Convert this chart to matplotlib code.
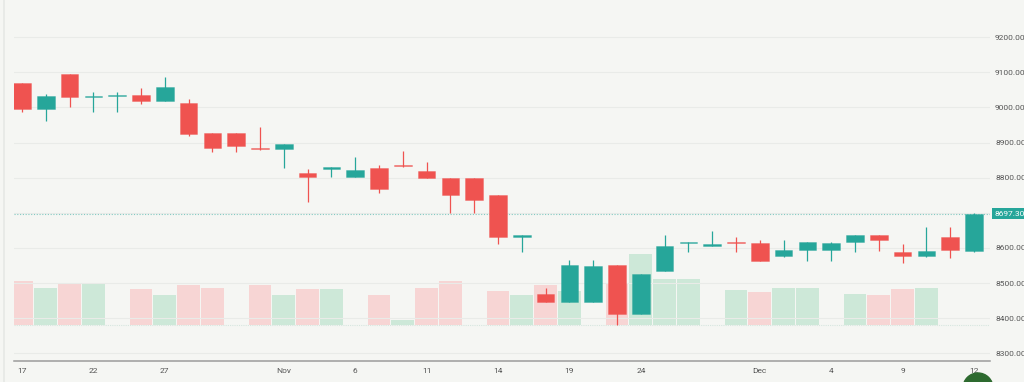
import matplotlib
matplotlib.use("Agg")
import matplotlib.pyplot as plt
import matplotlib.transforms as mtransforms
from matplotlib.patches import Circle
from matplotlib.lines import Line2D
import numpy as np

# daily candles, one slot per trading day
opens = [9071, 8995, 9095, 9030, 9032, 9035, 9018, 9014, 8927, 8927,
         8885, 8882, 8813, 8826, 8801, 8829, 8837, 8820, 8800, 8800,
         8752, 8632, 8468, 8445, 8445, 8551, 8412, 8535, 8614, 8606,
         8616, 8615, 8578, 8593, 8593, 8616, 8636, 8587, 8577, 8631, 8590]
highs = [9071, 9037, 9095, 9043, 9045, 9056, 9086, 9023, 8927, 8927,
         8945, 8896, 8825, 8831, 8858, 8836, 8876, 8844, 8800, 8800,
         8752, 8636, 8487, 8566, 8566, 8551, 8525, 8637, 8617, 8649,
         8632, 8623, 8623, 8618, 8618, 8636, 8636, 8611, 8659, 8659, 8700]
lows = [8988, 8962, 9000, 8986, 8986, 9010, 9018, 8920, 8874, 8874,
        8880, 8827, 8732, 8803, 8801, 8755, 8830, 8798, 8699, 8699,
        8611, 8587, 8445, 8445, 8445, 8380, 8412, 8535, 8587, 8605,
        8587, 8563, 8575, 8564, 8564, 8589, 8592, 8558, 8574, 8572, 8589]
closes = [8995, 9033, 9030, 9034, 9036, 9018, 9058, 8925, 8885, 8890,
          8881, 8895, 8801, 8830, 8821, 8768, 8832, 8798, 8751, 8737,
          8632, 8636, 8445, 8551, 8548, 8413, 8525, 8606, 8617, 8608,
          8613, 8563, 8594, 8618, 8613, 8636, 8622, 8578, 8591, 8593, 8697.3]
volumes = [44.3, 37.3, 41.3, 41.3, 0, 36, 30, 40.3, 37.3, 0,
           40.7, 30, 36.7, 36.7, 0, 30.7, 5, 37.3, 44.3, 0,
           34.3, 30, 40, 34.7, 0, 42, 71.3, 46, 46, 0,
           35.3, 33, 37, 37, 0, 31.7, 30.3, 36.3, 37.7, 0, 0]

tick_slots = [0, 3, 6, 11, 14, 17, 20, 23, 26, 31, 34, 37, 40]
tick_labels = ["17", "22", "27", "Nov", "6", "11", "14", "19", "24", "Dec", "4", "9", "12"]
price_ticks = [8300, 8400, 8500, 8600, 8700, 8800, 8900, 9000, 9100, 9200]
last_price = 8697.3

UP = "#26a69a"
DOWN = "#ef5350"
UP_VOL = "#cde8d8"
DOWN_VOL = "#f7d5d4"
BG = "#f5f6f3"
TXT = "#555555"

plt.rcParams['font.family'] = ['Roboto', 'DejaVu Sans']

fig = plt.figure(figsize=(10.24, 3.82), dpi=100, facecolor=BG)
W, H = 1024, 382
left, right, top, bottom = 14, 990, 0, 361
ax_vol = fig.add_axes([left / W, (H - bottom) / H, (right - left) / W, (bottom - top) / H])
ax_vol.set_facecolor(BG)
ax = ax_vol.twinx()

x = np.arange(len(opens))
o = np.array(opens, float)
c = np.array(closes, float)
h = np.array(highs, float)
l = np.array(lows, float)

# volume (colour by close vs previous close)
prev = np.r_[o[0], c[:-1]]
vol_cols = [UP_VOL if ci >= pi else DOWN_VOL for ci, pi in zip(c, prev)]
ax_vol.bar(x, volumes, width=0.96, color=vol_cols, edgecolor="none", zorder=2)
ax_vol.axhline(0, color="#d6e6df", lw=0.8, ls=(0, (1, 1)), zorder=1)
ax_vol.set_ylim(-35.7, 325.3)
ax_vol.set_yticks([])

# candles
cols = [UP if ci >= oi else DOWN for oi, ci in zip(o, c)]
ax.vlines(x, l, h, colors=cols, lw=0.9, zorder=3)
body_lo = np.minimum(o, c)
body_h = np.maximum(np.abs(c - o), 4)
ax.bar(x, body_h, bottom=body_lo, width=0.74, color=cols,
       edgecolor=[cc + "66" for cc in cols], linewidth=0.6, zorder=4)

ax.set_xlim(-0.336, 40.67)
ax.set_ylim(8278, 9306)
ax.set_yticks(price_ticks)
ax.set_yticklabels([f"{p:.2f}" for p in price_ticks])
ax.tick_params(axis="y", length=0, pad=3.6, labelsize=6, labelcolor=TXT)
ax.grid(axis="y", color="#e9ebe8", lw=0.8, zorder=0)
ax.set_axisbelow(True)

ax_vol.set_xticks(tick_slots)
ax_vol.set_xticklabels(tick_labels)
ax_vol.tick_params(axis="x", length=0, pad=5, labelsize=6, labelcolor=TXT)

for a in (ax, ax_vol):
    for s in a.spines.values():
        s.set_visible(False)
ax_vol.spines["bottom"].set_visible(True)
ax_vol.spines["bottom"].set_color("#9b9b9b")
ax_vol.spines["bottom"].set_linewidth(1.1)

# last price line and label
ax.axhline(last_price, color=UP, alpha=0.55, lw=0.8, ls=(0, (1, 1.5)), zorder=2)
ax.annotate(f"{last_price:.2f}", xy=(1, last_price), xycoords=("axes fraction", "data"),
            xytext=(3.3, 0), textcoords="offset points", ha="left", va="center",
            fontsize=6, color="white",
            bbox=dict(boxstyle="square,pad=0.3", fc=UP, ec="none"), annotation_clip=False)

# page edge and the round button at the corner
fig.add_artist(Line2D([4 / W, 4 / W], [0, 1], color="#e6e8e5", lw=1.2))
fig.add_artist(Circle((9.78, -0.06), 0.15, transform=fig.dpi_scale_trans,
                      color="#2d6a2f", clip_on=False))

fig.savefig("out.png", dpi=100, facecolor=BG)
